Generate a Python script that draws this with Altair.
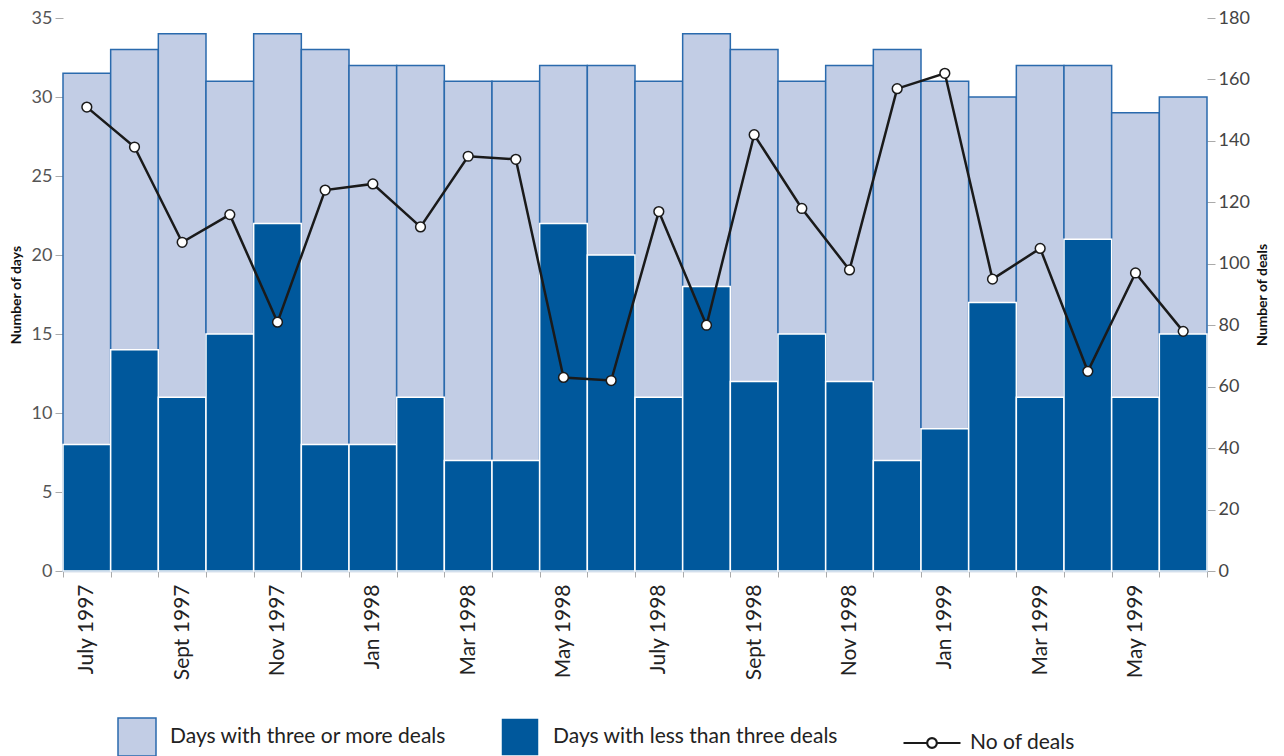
import altair as alt
import pandas as pd
import json

months = ["July 1997", "Aug 1997", "Sept 1997", "Oct 1997", "Nov 1997", "Dec 1997",
          "Jan 1998", "Feb 1998", "Mar 1998", "Apr 1998", "May 1998", "June 1998",
          "July 1998", "Aug 1998", "Sept 1998", "Oct 1998", "Nov 1998", "Dec 1998",
          "Jan 1999", "Feb 1999", "Mar 1999", "Apr 1999", "May 1999", "June 1999"]
shown_labels = months[::2]

total_days = [31.5, 33, 34, 31, 34, 33, 32, 32, 31, 31, 32, 32,
              31, 34, 33, 31, 32, 33, 31, 30, 32, 32, 29, 30]
days_less_three = [8, 14, 11, 15, 22, 8, 8, 11, 7, 7, 22, 20,
                   11, 18, 12, 15, 12, 7, 9, 17, 11, 21, 11, 15]
deals = [151, 138, 107, 116, 81, 124, 126, 112, 135, 134, 63, 62,
         117, 80, 142, 118, 98, 157, 162, 95, 105, 65, 97, 78]

LIGHT = "Days with three or more deals"
DARK = "Days with less than three deals"
LINE = "No of deals"

rows = []
for m, t in zip(months, total_days):
    rows.append({"month": m, "series": LIGHT, "value": t})
for m, d in zip(months, days_less_three):
    rows.append({"month": m, "series": DARK, "value": d})
bars_df = pd.DataFrame(rows)
line_df = pd.DataFrame({"month": months, "deals": deals, "series": LINE})

FONT = "Lato"

x_enc = alt.X("month:N", sort=months, title=None,
              scale=alt.Scale(paddingInner=0, paddingOuter=0),
              axis=alt.Axis(labelAngle=270, labelAlign="right", labelBaseline="middle",
                            labelFontSize=21, labelColor="#222222", labelPadding=7,
                            tickBand="extent", tickSize=6, tickColor="#aaaaaa",
                            domainColor="#b3c3d6", domainWidth=1.5,
                            labelExpr="indexof(" + json.dumps(shown_labels) + ", datum.value) >= 0 ? datum.label : ''"))

legend_kw = dict(title=None, orient="none", legendX=54, legendY=699,
                 direction="horizontal", symbolType="square",
                 symbolSize=1444, symbolStrokeWidth=1.5,
                 labelFontSize=21, labelColor="#222222",
                 labelOffset=13, columnPadding=51, labelLimit=400)

bars = alt.Chart(bars_df).mark_bar(strokeWidth=1.5).encode(
    x=x_enc,
    y=alt.Y("value:Q", stack=None,
            scale=alt.Scale(domain=[0, 35], nice=False),
            axis=alt.Axis(title="Number of days", values=[0, 5, 10, 15, 20, 25, 30, 35],
                          labelFontSize=18, labelColor="#555555", tickColor="#aaaaaa",
                          tickSize=8, labelPadding=3, domain=False, grid=False,
                          titleFontSize=14, titleFontWeight="bold", titleColor="#111111",
                          titlePadding=8)),
    color=alt.Color("series:N", scale=alt.Scale(domain=[LIGHT, DARK], range=["#c2cde5", "#00589c"]),
                    legend=alt.Legend(**legend_kw)),
    stroke=alt.Stroke("series:N", scale=alt.Scale(domain=[LIGHT, DARK], range=["#2a6aad", "#ffffff"]),
                      legend=alt.Legend(**legend_kw)),
)

y_right = alt.Y("deals:Q", scale=alt.Scale(domain=[0, 180], nice=False),
                axis=alt.Axis(orient="right", title="Number of deals",
                              values=list(range(0, 181, 20)),
                              labelFontSize=18, labelColor="#444444", tickColor="#aaaaaa",
                              tickSize=8, labelPadding=3, domain=False, grid=False,
                              titleFontSize=14, titleFontWeight="bold", titleColor="#111111",
                              titlePadding=20, titleAngle=270))

legend_path = "M-1,0L-0.17,0M0.17,0L1,0M0.17,0A0.17,0.17,0,1,1,-0.17,0A0.17,0.17,0,1,1,0.17,0Z"

line = alt.Chart(line_df).mark_line(color="#1a1a1a", strokeWidth=2.5).encode(
    x=alt.X("month:N", sort=months),
    y=y_right,
    opacity=alt.Opacity("series:N", scale=alt.Scale(domain=[LINE], range=[1]),
                        legend=alt.Legend(title=None, orient="none", legendX=839, legendY=695,
                                          symbolType=legend_path, symbolSize=3249,
                                          symbolFillColor="#ffffff", symbolStrokeColor="#1a1a1a",
                                          symbolStrokeWidth=2.2,
                                          labelFontSize=21, labelColor="#222222",
                                          labelOffset=8)),
)

points = alt.Chart(line_df).mark_point(filled=True, fill="#ffffff", stroke="#1a1a1a",
                                       strokeWidth=1.5, size=95, opacity=1, shape="circle").encode(
    x=alt.X("month:N", sort=months),
    y=y_right,
)

chart = alt.layer(bars, alt.layer(line, points)).resolve_scale(
    y="independent"
).properties(
    width=1144, height=553,
    autosize=alt.AutoSizeParams(type="none"),
    padding={"left": 63, "top": 18, "right": 77, "bottom": 185},
).configure(font=FONT, view=alt.ViewConfig(stroke=None))

chart.save("out.html", embed_options={"renderer": "svg", "actions": False})
